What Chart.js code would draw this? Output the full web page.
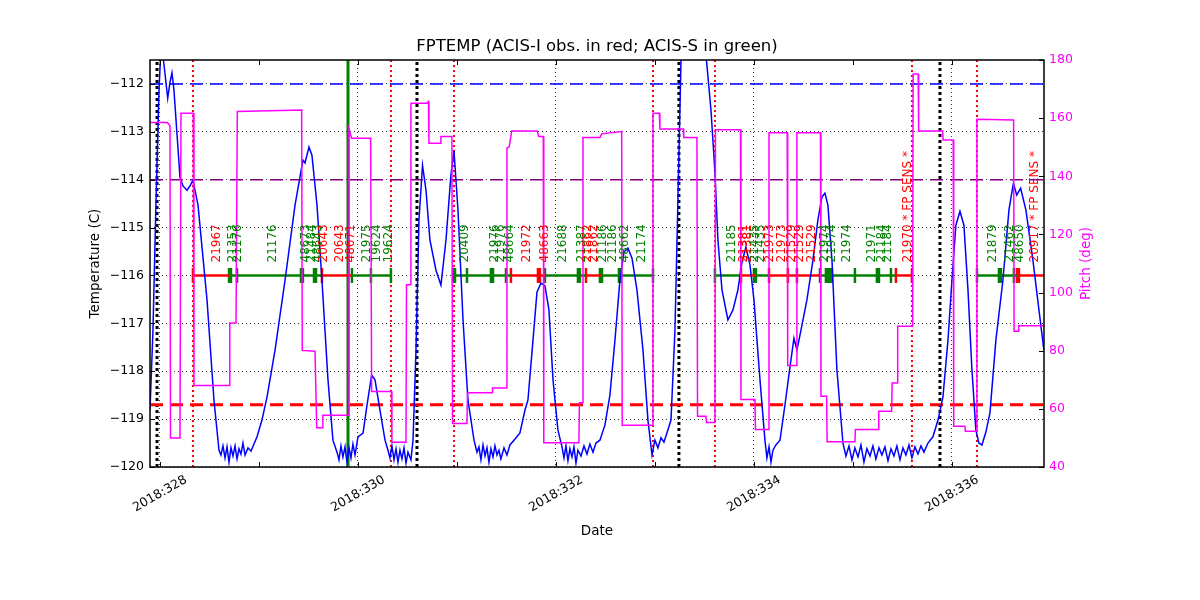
<!DOCTYPE html>
<html>
<head>
<meta charset="utf-8">
<title>FPTEMP</title>
<script src="https://cdn.jsdelivr.net/npm/chart.js@4.4.0/dist/chart.umd.min.js"></script>
<style>
  html, body { margin: 0; padding: 0; background: #fff; }
  canvas { display: block; }
</style>
</head>
<body>
<canvas id="fptemp" width="1200" height="600"></canvas>
<script>
// FPTEMP model run: temperature on the left axis, pitch on the right, obsid bar at -116
const year = 2018;
const dayMin = 327.899, dayMax = 336.93;
const tempMin = -120, tempMax = -111.5;
const dayTicks = [328, 329, 330, 331, 332, 333, 334, 335, 336];
const tempTicks = [-120, -119, -118, -117, -116, -115, -114, -113, -112];
const pitchTicks = [40, 60, 80, 100, 120, 140, 160, 180];

// FPTEMP (deg C) vs day of year
const tempDays = [
  327.899, 327.929, 327.960, 327.990, 328.015, 328.035, 328.078, 328.101, 328.121, 328.141, 328.202, 328.232, 328.273, 328.303, 328.333, 328.384, 328.475, 328.545, 328.596,
  328.616, 328.636, 328.657, 328.677, 328.697, 328.717, 328.737, 328.758, 328.778, 328.798, 328.818, 328.838, 328.859, 328.889, 328.919, 328.980, 329.030, 329.081, 329.162, 329.263,
  329.364, 329.444, 329.465, 329.505, 329.535, 329.586, 329.636, 329.697, 329.747, 329.788,
  329.808, 329.828, 329.848, 329.869, 329.889, 329.909, 329.929, 329.949, 329.970, 330.000, 330.051, 330.091, 330.138, 330.172, 330.222, 330.273,
  330.303, 330.323, 330.343, 330.364, 330.384, 330.404, 330.424, 330.444, 330.465, 330.485, 330.505, 330.535, 330.556, 330.586, 330.616, 330.652, 330.687, 330.727, 330.788, 330.838,
  330.889, 330.939, 330.970, 331.010, 331.061, 331.111, 331.172, 331.202,
  331.222, 331.242, 331.263, 331.283, 331.303, 331.323, 331.343, 331.364, 331.384, 331.404, 331.424, 331.444, 331.475, 331.505, 331.535, 331.576, 331.636, 331.687, 331.717, 331.768,
  331.808, 331.848, 331.889, 331.929, 331.970, 332.020, 332.061,
  332.081, 332.101, 332.121, 332.141, 332.162, 332.182, 332.202, 332.222, 332.253, 332.283, 332.313, 332.343, 332.374, 332.404, 332.444, 332.495, 332.545, 332.596, 332.646, 332.687,
  332.727, 332.768, 332.818, 332.879, 332.929, 332.970, 333.000, 333.030, 333.061, 333.091, 333.121, 333.162, 333.202, 333.232, 333.263, 333.354, 333.520, 333.566, 333.606, 333.636,
  333.677, 333.737, 333.788, 333.838, 333.879, 333.919, 333.960, 334.000, 334.061, 334.111,
  334.131, 334.152, 334.172, 334.192, 334.222, 334.263, 334.313, 334.364, 334.404, 334.434, 334.475, 334.535, 334.596, 334.646, 334.687, 334.717, 334.747, 334.788, 334.838, 334.899,
  334.929, 334.960, 334.990, 335.020, 335.051, 335.081, 335.111, 335.141, 335.172, 335.202, 335.232, 335.263, 335.293, 335.323, 335.354, 335.384, 335.414, 335.444, 335.475, 335.505,
  335.535, 335.566, 335.596, 335.626, 335.657, 335.687, 335.717, 335.758, 335.808, 335.859, 335.909, 335.960, 336.000, 336.040, 336.081, 336.121, 336.162, 336.202, 336.242, 336.273,
  336.303, 336.343, 336.384, 336.444, 336.515, 336.576, 336.621, 336.654, 336.694, 336.747, 336.818, 336.879, 336.929
];
const tempVals = [
  -118.81, -117.14, -114.43, -112.13, -110.98, -111.50, -112.30, -111.96, -111.77, -112.13, -113.95, -114.13, -114.22, -114.13, -114.01, -114.53, -116.51, -118.60, -119.65,
  -119.75, -119.56, -119.81, -119.58, -119.90, -119.60, -119.77, -119.56, -119.83, -119.62, -119.73, -119.50, -119.75, -119.60, -119.67, -119.37, -119.02, -118.54, -117.56, -116.10,
  -114.53, -113.59, -113.65, -113.32, -113.49, -114.53, -116.10, -118.18, -119.44, -119.69,
  -119.85, -119.56, -119.79, -119.58, -119.90, -119.60, -119.81, -119.52, -119.75, -119.37, -119.29, -118.71, -118.08, -118.18, -118.81, -119.44,
  -119.65, -119.81, -119.56, -119.85, -119.62, -119.90, -119.65, -119.83, -119.60, -119.92, -119.69, -119.85, -119.44, -117.56, -114.84, -113.70, -114.22, -115.26, -115.89, -116.20,
  -115.26, -113.90, -113.40, -114.63, -116.93, -118.60, -119.44, -119.69,
  -119.58, -119.85, -119.54, -119.77, -119.60, -119.90, -119.62, -119.79, -119.56, -119.75, -119.65, -119.83, -119.60, -119.75, -119.54, -119.44, -119.29, -118.81, -118.60, -117.35,
  -116.35, -116.16, -116.22, -116.72, -118.18, -119.23, -119.58,
  -119.81, -119.56, -119.87, -119.62, -119.79, -119.58, -119.92, -119.65, -119.77, -119.56, -119.73, -119.52, -119.69, -119.50, -119.44, -119.12, -118.50, -117.35, -116.10, -115.51,
  -115.43, -115.64, -116.30, -117.56, -119.02, -119.75, -119.44, -119.60, -119.39, -119.48, -119.29, -119.02, -117.14, -114.43, -111.50, -109.21, -111.50, -112.55, -113.84, -115.26,
  -116.30, -116.93, -116.72, -116.30, -115.72, -115.41, -115.78, -116.51, -118.18, -119.44,
  -119.81, -119.58, -119.90, -119.65, -119.54, -119.44, -118.71, -117.91, -117.31, -117.56, -117.14, -116.51, -115.68, -114.84, -114.36, -114.28, -114.53, -115.68, -117.97, -119.50,
  -119.77, -119.56, -119.85, -119.60, -119.79, -119.54, -119.90, -119.62, -119.77, -119.56, -119.83, -119.60, -119.75, -119.58, -119.87, -119.62, -119.77, -119.56, -119.85, -119.60,
  -119.75, -119.54, -119.81, -119.58, -119.73, -119.56, -119.69, -119.50, -119.37, -119.02, -118.54, -117.35, -116.10, -114.95, -114.66, -114.95, -116.30, -117.97, -119.23, -119.50,
  -119.54, -119.27, -118.87, -117.35, -116.10, -114.63, -114.07, -114.32, -114.18, -114.63, -115.68, -116.72, -117.56
];

// pitch (deg) vs day of year, step-like maneuvers
const pitchDays = [
  327.899, 328.074, 328.101, 328.106, 328.202, 328.212, 328.336, 328.343, 328.700, 328.705, 328.768, 328.781, 329.431, 329.437, 329.566, 329.583, 329.641, 329.645, 329.902, 329.909,
  329.935, 330.128, 330.138, 330.338, 330.343, 330.485, 330.490, 330.530, 330.535, 330.695, 330.712, 330.717, 330.833, 330.838, 330.949, 330.955, 331.101, 331.106, 331.354, 331.359,
  331.500, 331.505, 331.528, 331.553, 331.811, 331.825, 331.872, 331.877, 332.232, 332.237, 332.268, 332.273, 332.444, 332.462, 332.664, 332.669, 332.975, 332.980, 333.044, 333.050,
  333.286, 333.291, 333.424, 333.430, 333.515, 333.520, 333.606, 333.611, 333.864, 333.869, 334.010, 334.015, 334.146, 334.152, 334.336, 334.341, 334.429, 334.434, 334.672, 334.677,
  334.734, 334.739, 335.020, 335.025, 335.256, 335.261, 335.391, 335.396, 335.447, 335.452, 335.603, 335.608, 335.659, 335.664, 335.906, 335.911, 336.013, 336.018, 336.131, 336.136,
  336.247, 336.252, 336.623, 336.628, 336.670, 336.675, 336.929
];
const pitchVals = [
  158.5, 158.5, 157.4, 50.0, 50.0, 161.7, 161.7, 68.0, 68.0, 89.5, 89.5, 162.3, 162.8, 80.1, 79.8, 53.5, 53.5, 57.8, 57.8, 156.3,
  153.1, 153.1, 66.0, 66.0, 48.5, 48.5, 102.7, 102.7, 165.1, 165.1, 165.7, 151.4, 151.4, 153.7, 153.7, 55.0, 55.0, 65.5, 65.5, 67.2,
  67.2, 149.7, 150.2, 155.6, 155.6, 153.7, 153.7, 48.3, 48.3, 62.1, 62.1, 153.3, 153.3, 154.6, 155.4, 54.4, 54.4, 161.7, 161.7, 156.3,
  156.3, 153.3, 153.3, 57.5, 57.5, 55.3, 55.3, 156.0, 156.0, 63.2, 63.2, 52.9, 52.9, 155.0, 155.0, 74.9, 74.9, 155.0, 155.0, 64.3,
  64.3, 48.7, 48.7, 52.9, 52.9, 59.2, 59.2, 68.9, 68.9, 88.4, 88.4, 175.2, 175.2, 155.6, 155.6, 152.5, 152.5, 54.0, 54.0, 52.3,
  52.3, 159.6, 159.4, 86.7, 86.7, 88.6, 88.6
];

// limits and event times
const planningLimit = -112.0;
const yellowLimit = -114.0;
const acisILimit = -118.7;
const radzoneDays = [328.333, 330.333, 330.970, 332.980, 333.606, 335.596, 336.253];
const commDays = [327.970, 330.596, 333.242, 335.879];
const loadStartDay = 329.899;

// observation bar
const obsLevel = -116;
const segStart = [328.333, 328.707, 329.636, 329.939, 330.970, 331.545, 331.889, 332.303, 332.455, 333.606, 333.869, 334.010, 334.152, 334.667, 335.434, 336.253, 336.667];
const segStop  = [328.707, 329.636, 329.939, 330.333, 331.545, 331.889, 332.303, 332.455, 332.980, 333.869, 334.010, 334.152, 334.667, 335.434, 335.596, 336.667, 336.929];
const segInst  = ['I', 'S', 'I', 'S', 'S', 'I', 'S', 'I', 'S', 'S', 'I', 'S', 'I', 'S', 'I', 'S', 'I'];
const tickDaysI = [328.333, 329.636, 331.545, 331.818, 331.838, 332.303, 333.869, 334.152, 334.343, 334.434, 335.434, 335.596, 336.657, 336.677];
const tickDaysS = [328.697, 328.717, 328.778, 329.424, 329.444, 329.556, 329.576, 329.939, 330.131, 330.333, 330.960, 330.980, 331.101, 331.343, 331.364, 331.495,
  331.889, 332.222, 332.242, 332.444, 332.465, 332.636, 332.657, 332.980, 333.606, 334.000, 334.020, 334.667, 334.727, 334.747, 334.768, 334.788,
  335.020, 335.242, 335.263, 335.384, 336.253, 336.475, 336.495, 336.626];
const labelDays = [328.576, 328.737, 328.788, 329.141, 329.475, 329.535, 329.596, 329.657, 329.818, 329.929, 330.091, 330.192, 330.313,
  331.081, 331.384, 331.444, 331.535, 331.707, 331.889, 332.071, 332.263, 332.323, 332.384, 332.475, 332.576, 332.697, 332.869,
  333.778, 333.899, 333.939, 334.010, 334.071, 334.162, 334.283, 334.384, 334.465, 334.586, 334.717, 334.788, 334.939, 335.192, 335.293, 335.354, 335.556,
  336.414, 336.586, 336.687, 336.838];
const labelText = ['21967', '21353', '21176', '21176', '48673', '21484', '48643', '20643', '20643', '48671', '21975', '19624', '19624',
  '20409', '21976', '21976', '48664', '21972', '48663', '21688', '21387', '21862', '21862', '21186', '21186', '48662', '21174',
  '21185', '21381', '21381', '21435', '21435', '21973', '21973', '21529', '21529', '21529', '21974', '21974', '21974', '21971', '21184', '21184', '21970 * FP SENS *',
  '21879', '21462', '48650', '20917 * FP SENS *'];
const labelInst = ['I', 'S', 'S', 'S', 'S', 'S', 'S', 'I', 'I', 'I', 'S', 'S', 'S',
  'S', 'S', 'S', 'S', 'I', 'I', 'S', 'S', 'I', 'I', 'S', 'S', 'S', 'S',
  'S', 'I', 'I', 'S', 'S', 'I', 'I', 'I', 'I', 'I', 'S', 'S', 'S', 'S', 'S', 'S', 'I',
  'S', 'S', 'S', 'I'];

const RED = '#ff0000', GREEN = '#008000', BLUE = '#0000ff', MAGENTA = '#ff00ff', PURPLE = '#800080';
const FONT = '"DejaVu Sans", "Liberation Sans", sans-serif';
const instColor = inst => inst === 'I' ? RED : GREEN;

function xy(xs, ys) { return xs.map((x, i) => ({ x: x, y: ys[i] })); }

function vline(day, color, width, dash, order) {
  return { data: [{ x: day, y: tempMin }, { x: day, y: tempMax }], yAxisID: 'y',
    borderColor: color, borderWidth: width, borderDash: dash, pointRadius: 0, order: order };
}
function hline(level, color, width, dash) {
  return { data: [{ x: dayMin, y: level }, { x: dayMax, y: level }], yAxisID: 'y',
    borderColor: color, borderWidth: width, borderDash: dash, pointRadius: 0, order: 5 };
}

const datasets = [];
datasets.push({ label: 'Pitch', data: xy(pitchDays, pitchVals), yAxisID: 'y2',
  borderColor: MAGENTA, borderWidth: 1.5, pointRadius: 0, order: 1 });
datasets.push({ label: 'FPTEMP', data: xy(tempDays, tempVals), yAxisID: 'y',
  borderColor: BLUE, borderWidth: 1.5, pointRadius: 0, order: 2 });

segStart.forEach((s, i) => {
  datasets.push({ data: [{ x: s, y: obsLevel }, { x: segStop[i], y: obsLevel }], yAxisID: 'y',
    borderColor: instColor(segInst[i]), borderWidth: 2.5, pointRadius: 0, order: 3 });
});
[[tickDaysI, RED], [tickDaysS, GREEN]].forEach(([days, col]) => {
  datasets.push({ data: days.map(d => ({ x: d, y: obsLevel })), yAxisID: 'y', showLine: false,
    pointStyle: 'line', pointRotation: 90, pointRadius: 7.5, pointBorderWidth: 2.5,
    pointBorderColor: col, pointBackgroundColor: col, order: 3 });
});

datasets.push(vline(loadStartDay, GREEN, 3, [], 4));
datasets.push(hline(planningLimit, BLUE, 1.5, [13, 7]));
datasets.push(hline(yellowLimit, PURPLE, 1.5, [13, 7]));
datasets.push(hline(acisILimit, RED, 3, [13, 7]));
radzoneDays.forEach(d => datasets.push(vline(d, RED, 2, [2, 3], 6)));
commDays.forEach(d => datasets.push(vline(d, '#000', 3, [3, 3], 6)));

const minus = v => v < 0 ? '\u2212' + Math.abs(v) : String(v);

const decor = {
  id: 'decor',
  afterDatasetsDraw(chart) {
    const { ctx, scales: { x, y } } = chart;
    const base = y.getPixelForValue(obsLevel) - 13;
    ctx.save();
    ctx.font = '12px ' + FONT;
    ctx.textAlign = 'left';
    ctx.textBaseline = 'middle';
    labelDays.forEach((d, i) => {
      ctx.save();
      ctx.translate(x.getPixelForValue(d), base);
      ctx.rotate(-Math.PI / 2);
      ctx.fillStyle = instColor(labelInst[i]);
      ctx.fillText(labelText[i], 0, 0);
      ctx.restore();
    });
    ctx.restore();
  },
  afterDraw(chart) {
    const { ctx, chartArea: a, scales: { x, y, y2 } } = chart;
    const midX = (a.left + a.right) / 2, midY = (a.top + a.bottom) / 2;
    ctx.save();
    ctx.strokeStyle = '#000';
    ctx.lineWidth = 1.5;
    ctx.strokeRect(a.left, a.top, a.right - a.left, a.bottom - a.top);

    // matplotlib-style inward ticks
    ctx.lineWidth = 1;
    ctx.beginPath();
    dayTicks.forEach(d => {
      const px = Math.round(x.getPixelForValue(d)) + 0.5;
      ctx.moveTo(px, a.bottom); ctx.lineTo(px, a.bottom - 5);
      ctx.moveTo(px, a.top); ctx.lineTo(px, a.top + 5);
    });
    tempTicks.forEach(t => {
      const py = Math.round(y.getPixelForValue(t)) + 0.5;
      ctx.moveTo(a.left, py); ctx.lineTo(a.left + 5, py);
    });
    pitchTicks.forEach(p => {
      const py = Math.round(y2.getPixelForValue(p)) + 0.5;
      ctx.moveTo(a.right, py); ctx.lineTo(a.right - 5, py);
    });
    ctx.stroke();

    // date labels, rotated and centred on their tick
    ctx.fillStyle = '#000';
    ctx.font = '12.5px ' + FONT;
    ctx.textAlign = 'center';
    ctx.textBaseline = 'middle';
    dayTicks.filter(d => d % 2 === 0).forEach(d => {
      ctx.save();
      ctx.translate(x.getPixelForValue(d), a.bottom + 27);
      ctx.rotate(-Math.PI / 6);
      ctx.fillText(year + ':' + d, 0, 0);
      ctx.restore();
    });

    ctx.font = '16.5px ' + FONT;
    ctx.fillText('FPTEMP (ACIS-I obs. in red; ACIS-S in green)', midX, 47);

    ctx.font = '13.5px ' + FONT;
    ctx.fillText('Date', midX, 531);
    ctx.save();
    ctx.translate(95, midY);
    ctx.rotate(-Math.PI / 2);
    ctx.fillText('Temperature (C)', 0, 0);
    ctx.restore();
    ctx.save();
    ctx.fillStyle = MAGENTA;
    ctx.translate(1086, midY);
    ctx.rotate(-Math.PI / 2);
    ctx.fillText('Pitch (deg)', 0, 0);
    ctx.restore();
    ctx.restore();
  }
};

new Chart(document.getElementById('fptemp'), {
  type: 'line',
  data: { datasets: datasets },
  options: {
    responsive: false,
    animation: false,
    events: [],
    layout: { padding: { top: 60, left: 0, right: 0, bottom: 0 } },
    elements: { line: { tension: 0, fill: false } },
    plugins: { legend: { display: false }, title: { display: false }, tooltip: { enabled: false } },
    scales: {
      x: {
        type: 'linear', min: dayMin, max: dayMax,
        afterBuildTicks: s => { s.ticks = dayTicks.map(v => ({ value: v })); },
        afterFit: s => { s.height = 133; },
        ticks: { display: false },
        grid: { color: c => (c.tick && c.tick.value % 2 === 0) ? '#000' : 'rgba(0,0,0,0)', lineWidth: 0.8, drawTicks: false },
        border: { display: false, dash: [1, 3] }
      },
      y: {
        position: 'left', min: tempMin, max: tempMax,
        afterBuildTicks: s => { s.ticks = tempTicks.map(v => ({ value: v })); },
        afterFit: s => { s.width = 150; },
        ticks: { color: '#000', font: { family: FONT, size: 12.5 }, padding: 6, callback: minus },
        grid: { color: '#000', lineWidth: 0.8, drawTicks: false },
        border: { display: false, dash: [1, 3] }
      },
      y2: {
        position: 'right', min: 40, max: 180,
        afterBuildTicks: s => { s.ticks = pitchTicks.map(v => ({ value: v })); },
        afterFit: s => { s.width = 156; },
        ticks: { color: MAGENTA, font: { family: FONT, size: 12.5 }, padding: 5 },
        grid: { drawOnChartArea: false, drawTicks: false },
        border: { display: false }
      }
    }
  },
  plugins: [decor]
});
</script>
</body>
</html>
